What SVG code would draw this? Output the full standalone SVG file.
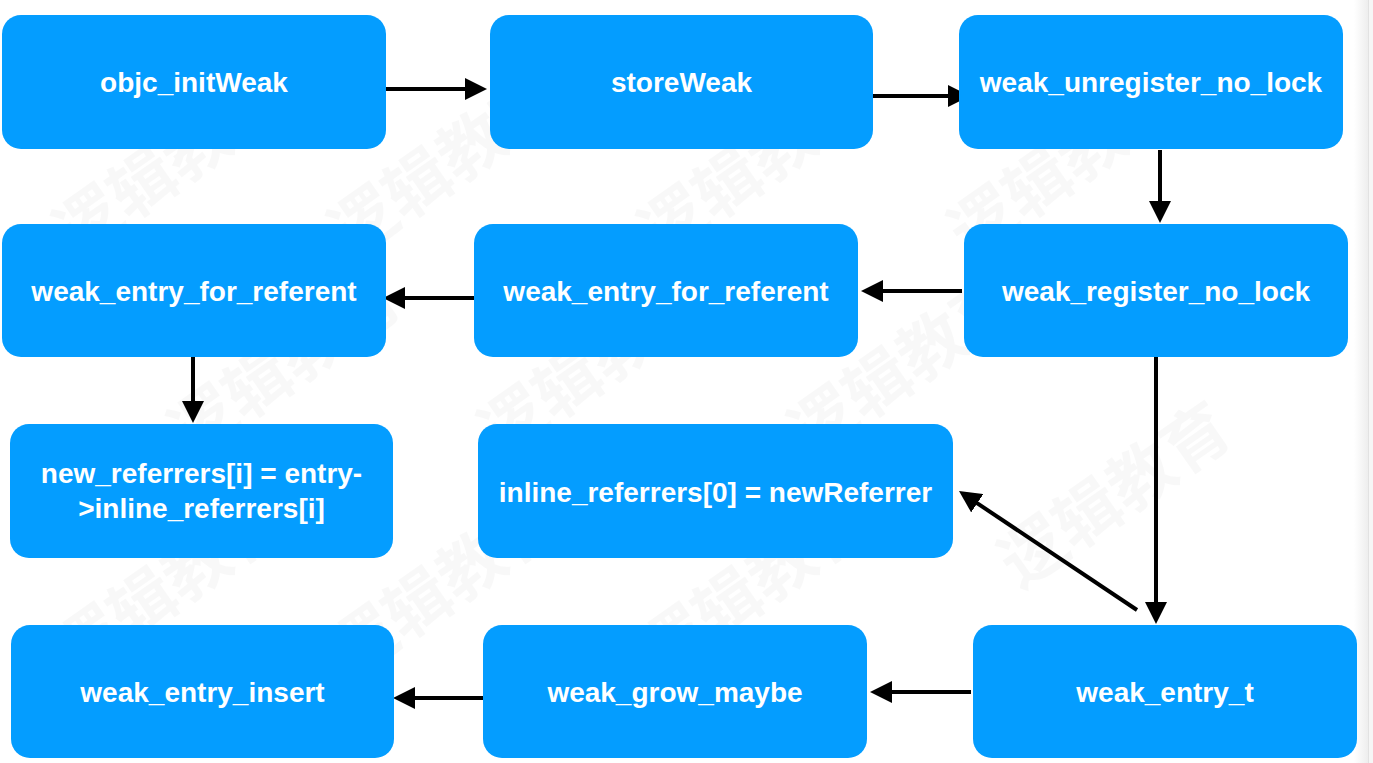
<svg xmlns="http://www.w3.org/2000/svg" width="1373" height="763" viewBox="0 0 1373 763">
<defs>
<style>
.node rect{fill:#049dff;}
.node text{fill:#ffffff;font-family:"Liberation Sans",Arial,Helvetica,sans-serif;font-weight:bold;font-size:28px;text-anchor:middle;}
.wm text{fill:#000;fill-opacity:0.028;font-family:"Noto Sans CJK SC",sans-serif;font-weight:bold;font-size:66px;}
.edge{stroke:#000;stroke-width:4;fill:none;marker-end:url(#arr);}
</style>
<marker id="arr" markerUnits="userSpaceOnUse" markerWidth="22" markerHeight="22" viewBox="0 0 22 22" refX="12" refY="11" orient="auto">
<path d="M0,0 L22,11 L0,22 z" fill="#000"/>
</marker>
<linearGradient id="edgeg" x1="0" y1="0" x2="1" y2="0">
<stop offset="0" stop-color="#ffffff"/>
<stop offset="1" stop-color="#eeeeee"/>
</linearGradient>
</defs>
<rect x="0" y="0" width="1373" height="763" fill="#ffffff"/>
<rect x="1354" y="0" width="14" height="763" fill="url(#edgeg)"/>
<rect x="1368" y="0" width="5" height="763" fill="#f6f6f6"/>
<rect x="1368" y="0" width="1" height="763" fill="#e2e2e2"/>
<g class="wm">
<text transform="translate(75,260) rotate(-35)">逻辑教育</text>
<text transform="translate(350,260) rotate(-35)">逻辑教育</text>
<text transform="translate(660,260) rotate(-35)">逻辑教育</text>
<text transform="translate(970,260) rotate(-35)">逻辑教育</text>
<text transform="translate(190,460) rotate(-35)">逻辑教育</text>
<text transform="translate(500,460) rotate(-35)">逻辑教育</text>
<text transform="translate(810,460) rotate(-35)">逻辑教育</text>
<text transform="translate(75,680) rotate(-35)">逻辑教育</text>
<text transform="translate(350,680) rotate(-35)">逻辑教育</text>
<text transform="translate(660,680) rotate(-35)">逻辑教育</text>
<text transform="translate(1020,590) rotate(-35)">逻辑教育</text>
</g>
<g id="connectors">
<line class="edge" x1="386" y1="89" x2="477" y2="89"/>
<line class="edge" x1="869" y1="96" x2="960" y2="96"/>
<line class="edge" x1="1160" y1="150" x2="1160" y2="213"/>
<line class="edge" x1="962" y1="291" x2="871" y2="291"/>
<line class="edge" x1="485" y1="298" x2="393" y2="298"/>
<line class="edge" x1="193" y1="349" x2="193" y2="413"/>
<line class="edge" x1="1156" y1="357" x2="1156" y2="614"/>
<line class="edge" x1="1137" y1="610" x2="967.3" y2="496.6"/>
<line class="edge" x1="971" y1="692" x2="880" y2="692"/>
<line class="edge" x1="493" y1="698" x2="403" y2="698"/>
</g>
<g id="n1" class="node"><rect x="2" y="15" width="384" height="134" rx="19"/><text x="194" y="92">objc_initWeak</text></g>
<g id="n2" class="node"><rect x="490" y="15" width="383" height="134" rx="19"/><text x="681.5" y="92">storeWeak</text></g>
<g id="n3" class="node"><rect x="959" y="15" width="384" height="134" rx="19"/><text x="1151" y="92">weak_unregister_no_lock</text></g>
<g id="n4" class="node"><rect x="964" y="224" width="384" height="133" rx="19"/><text x="1156" y="301">weak_register_no_lock</text></g>
<g id="n5" class="node"><rect x="474" y="224" width="384" height="133" rx="19"/><text x="666" y="301">weak_entry_for_referent</text></g>
<g id="n6" class="node"><rect x="2" y="224" width="384" height="133" rx="19"/><text x="194" y="301">weak_entry_for_referent</text></g>
<g id="n7" class="node"><rect x="10" y="424" width="383" height="134" rx="19"/><text x="201.5" y="483">new_referrers[i] = entry-</text><text x="201.5" y="518">&gt;inline_referrers[i]</text></g>
<g id="n8" class="node"><rect x="478" y="424" width="475" height="134" rx="19"/><text x="715.5" y="502">inline_referrers[0] = newReferrer</text></g>
<g id="n9" class="node"><rect x="11" y="625" width="383" height="133" rx="19"/><text x="202.5" y="702">weak_entry_insert</text></g>
<g id="n10" class="node"><rect x="483" y="625" width="384" height="133" rx="19"/><text x="675" y="702">weak_grow_maybe</text></g>
<g id="n11" class="node"><rect x="973" y="625" width="384" height="133" rx="19"/><text x="1165" y="702">weak_entry_t</text></g>
</svg>
